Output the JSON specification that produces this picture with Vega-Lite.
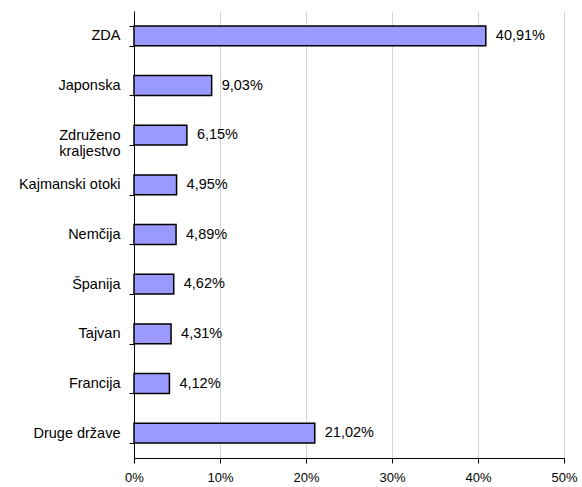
{
  "$schema": "https://vega.github.io/schema/vega-lite/v6.json",
  "autosize": "none",
  "width": 430,
  "height": 447,
  "padding": {"left": 134, "top": 11, "right": 18, "bottom": 29},
  "background": "white",
  "config": {
    "view": {"stroke": null},
    "font": "Liberation Sans"
  },
  "data": {
    "values": [
      {"drzava": "ZDA", "delez": 40.91, "oznaka": "40,91%"},
      {"drzava": "Japonska", "delez": 9.03, "oznaka": "9,03%"},
      {"drzava": "Združeno kraljestvo", "delez": 6.15, "oznaka": "6,15%"},
      {"drzava": "Kajmanski otoki", "delez": 4.95, "oznaka": "4,95%"},
      {"drzava": "Nemčija", "delez": 4.89, "oznaka": "4,89%"},
      {"drzava": "Španija", "delez": 4.62, "oznaka": "4,62%"},
      {"drzava": "Tajvan", "delez": 4.31, "oznaka": "4,31%"},
      {"drzava": "Francija", "delez": 4.12, "oznaka": "4,12%"},
      {"drzava": "Druge države", "delez": 21.02, "oznaka": "21,02%"}
    ]
  },
  "encoding": {
    "y": {
      "field": "drzava",
      "type": "nominal",
      "sort": null,
      "scale": {"paddingInner": 0.6, "paddingOuter": 0.3},
      "axis": {
        "title": null,
        "tickBand": "extent",
        "tickSize": 5,
        "tickColor": "black",
        "domainColor": "black",
        "labelColor": "black",
        "labelFontSize": 14.5,
        "labelPadding": 9,
        "labelLineHeight": 16,
        "labelExpr": "datum.value == 'Združeno kraljestvo' ? ['Združeno', 'kraljestvo'] : datum.value",
        "grid": false
      }
    },
    "x": {
      "field": "delez",
      "type": "quantitative",
      "scale": {"domain": [0, 50], "nice": false},
      "axis": {
        "title": null,
        "values": [0, 10, 20, 30, 40, 50],
        "labelExpr": "datum.value + '%'",
        "labelFlush": false,
        "tickSize": 5,
        "tickColor": "black",
        "domainColor": "black",
        "labelColor": "black",
        "labelFontSize": 13,
        "labelPadding": 8,
        "grid": true,
        "gridColor": "#d4d4d4",
        "gridWidth": 1
      }
    }
  },
  "layer": [
    {
      "mark": {"type": "bar", "color": "#9999ff", "stroke": "black", "strokeWidth": 1.5}
    },
    {
      "mark": {"type": "text", "align": "left", "dx": 10, "fontSize": 14.5, "color": "black"},
      "encoding": {"text": {"field": "oznaka"}}
    }
  ]
}
